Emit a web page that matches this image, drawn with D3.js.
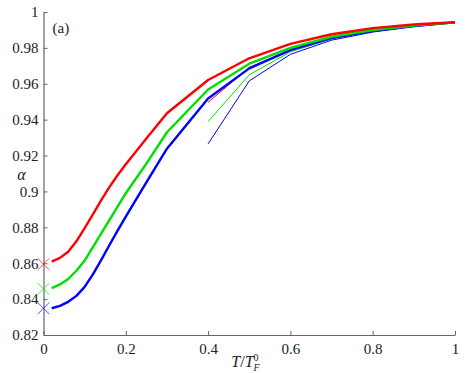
<!DOCTYPE html>
<html>
<head>
<meta charset="utf-8">
<script src="https://cdn.jsdelivr.net/npm/d3@7"></script>
<style>
  body { margin: 0; background: white; }
  svg text { font-family: "Liberation Serif", "Times New Roman", Times, serif; fill: #222; }
</style>
</head>
<body>
<div id="chart"></div>
<script>
// thick curves
let xThick = [0.02, 0.04, 0.06, 0.08, 0.1, 0.12, 0.14, 0.16, 0.18, 0.2, 0.25, 0.3, 0.4, 0.5, 0.6, 0.7, 0.8, 0.9, 1.0];
let redThick   = [0.8609, 0.8630, 0.8664, 0.8722, 0.8795, 0.8872, 0.8950, 0.9024, 0.9090, 0.9152, 0.9295, 0.9436, 0.9621, 0.9742, 0.9822, 0.9876, 0.9910, 0.9930, 0.9943];
let greenThick = [0.8461, 0.8482, 0.8512, 0.8558, 0.8615, 0.8690, 0.8765, 0.8840, 0.8915, 0.8990, 0.9155, 0.9330, 0.9568, 0.9712, 0.9800, 0.9862, 0.9900, 0.9925, 0.9942];
let blueThick  = [0.8349, 0.8362, 0.8385, 0.8418, 0.8468, 0.8538, 0.8617, 0.8700, 0.8782, 0.8860, 0.9050, 0.9238, 0.9518, 0.9686, 0.9788, 0.9855, 0.9895, 0.9922, 0.9942];

// thin curves, starting at 0.4
let xThin = [0.4, 0.5, 0.6, 0.7, 0.8, 0.9, 1.0];
let redThin   = [0.9497, 0.9690, 0.9790, 0.9857, 0.9897, 0.9923, 0.9943];
let greenThin = [0.9389, 0.9650, 0.9778, 0.9850, 0.9893, 0.9921, 0.9942];
let blueThin  = [0.9265, 0.9616, 0.9764, 0.9843, 0.9888, 0.9919, 0.9941];

// crosses at T=0
let markX = [0, 0, 0];
let markY = [0.8595, 0.8457, 0.8349];
let markColors = ["#ff0000", "#00e000", "#0000ff"];

let xTicks = [0, 0.2, 0.4, 0.6, 0.8, 1];
let xTickLabels = ["0", "0.2", "0.4", "0.6", "0.8", "1"];
let yTicks = [0.82, 0.84, 0.86, 0.88, 0.9, 0.92, 0.94, 0.96, 0.98, 1];
let yTickLabels = ["0.82", "0.84", "0.86", "0.88", "0.9", "0.92", "0.94", "0.96", "0.98", "1"];

var margin = {top: 12, right: 16, bottom: 38, left: 43.5},
    width = 471 - margin.left - margin.right,
    height = 373 - margin.top - margin.bottom;

var svg = d3.select("#chart")
  .append("svg")
    .attr("width", 471)
    .attr("height", 373)
  .append("g")
    .attr("transform", "translate(" + margin.left + "," + margin.top + ")");

var x = d3.scaleLinear().domain([0, 1]).range([0, width]);
var y = d3.scaleLinear().domain([0.82, 1]).range([height, 0]);

// axes (ticks point inward)
var xAxis = svg.append("g")
  .attr("transform", "translate(0," + height + ")")
  .call(d3.axisBottom(x)
    .tickValues(xTicks)
    .tickFormat(function(d, i) { return xTickLabels[i]; })
    .tickSizeInner(-4).tickSizeOuter(0).tickPadding(8));
var yAxis = svg.append("g")
  .call(d3.axisLeft(y)
    .tickValues(yTicks)
    .tickFormat(function(d, i) { return yTickLabels[i]; })
    .tickSizeInner(-4).tickSizeOuter(0).tickPadding(5));

[xAxis, yAxis].forEach(function(a) {
  a.attr("font-family", null);
  a.select(".domain").attr("stroke", "#666").attr("stroke-width", 1.2);
  a.selectAll(".tick line").attr("stroke", "#666");
  a.selectAll(".tick text")
    .style("font-family", "'Liberation Serif', 'Times New Roman', serif")
    .style("font-size", "15px")
    .attr("fill", "#222");
});

var line = d3.line()
  .x(function(d) { return x(d[0]); })
  .y(function(d) { return y(d[1]); });

let zip = function(xs, ys) { return xs.map(function(v, i) { return [v, ys[i]]; }); };

// thin lines
[[redThin, "#ff0000"], [greenThin, "#00e000"], [blueThin, "#0000ff"]].forEach(function(s) {
  svg.append("path")
    .attr("d", line(zip(xThin, s[0])))
    .attr("fill", "none")
    .attr("stroke", s[1])
    .attr("stroke-width", 1);
});

// thick lines
[[blueThick, "#0000ff"], [greenThick, "#00e000"], [redThick, "#ff0000"]].forEach(function(s) {
  svg.append("path")
    .attr("d", line(zip(xThick, s[0])))
    .attr("fill", "none")
    .attr("stroke", s[1])
    .attr("stroke-width", 2.4)
    .attr("stroke-linejoin", "round");
});

// cross markers
var cross = d3.symbol().type(d3.symbolX).size(90);
svg.selectAll(".mark")
  .data(markY)
  .enter()
  .append("path")
    .attr("class", "mark")
    .attr("d", cross)
    .attr("transform", function(d, i) { return "translate(" + x(markX[i]) + "," + y(d) + ")"; })
    .attr("fill", "none")
    .attr("stroke", function(d, i) { return markColors[i]; })
    .attr("stroke-width", 1)
    .attr("opacity", 0.7);

// labels
svg.append("text")
  .attr("x", 9)
  .attr("y", 21)
  .style("font-size", "15px")
  .text("(a)");

svg.append("text")
  .attr("x", -22)
  .attr("y", 168)
  .attr("text-anchor", "middle")
  .style("font-size", "16px")
  .style("font-style", "italic")
  .text("α");

var xl = svg.append("text")
  .attr("x", 202)
  .attr("y", 355)
  .attr("text-anchor", "middle")
  .style("font-size", "16px");
xl.append("tspan").style("font-style", "italic").text("T");
xl.append("tspan").text("/");
xl.append("tspan").style("font-style", "italic").text("T");
xl.append("tspan").attr("dy", -6).style("font-size", "10px").text("0");
xl.append("tspan").attr("dx", -5).attr("dy", 10).style("font-size", "10px").style("font-style", "italic").text("F");
</script>
</body>
</html>
